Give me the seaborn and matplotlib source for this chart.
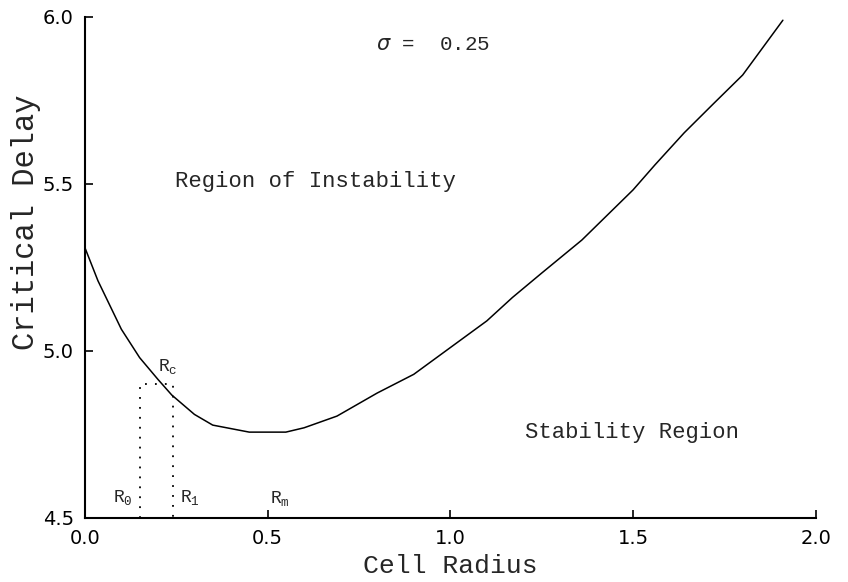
import matplotlib
matplotlib.use("Agg")
import matplotlib.pyplot as plt
import seaborn as sns

# curve
radius = [0.0, 0.036, 0.1, 0.15, 0.2, 0.238, 0.3, 0.35, 0.45, 0.55, 0.6, 0.69,
          0.8, 0.9, 1.0, 1.1, 1.17, 1.25, 1.36, 1.5, 1.56, 1.64, 1.72, 1.8, 1.91]
delay = [5.31, 5.21, 5.065, 4.98, 4.915, 4.868, 4.81, 4.778, 4.757, 4.757, 4.77, 4.805,
         4.874, 4.93, 5.01, 5.09, 5.16, 5.233, 5.332, 5.482, 5.557, 5.653, 5.74, 5.826, 5.99]

# dotted box between R0 and R1
box_x = [0.15, 0.15, 0.24, 0.24]
box_y = [4.5, 4.90, 4.90, 4.5]

sns.set_theme(style="ticks")
plt.rcParams['font.family'] = ['DejaVu Sans']
mono = 'Liberation Mono'

fig = plt.figure(figsize=(8.48, 5.82), dpi=100)
ax = fig.add_axes([0.100, 0.110, 0.862, 0.861])

sns.lineplot(x=radius, y=delay, sort=False, color='black', lw=1.1, ax=ax)
ax.plot(box_x, box_y, color='black', lw=1.3, linestyle=(0, (1, 4.5)))

ax.set_xlim(0, 2.0)
ax.set_ylim(4.5, 6.0)
ax.set_xticks([0.0, 0.5, 1.0, 1.5, 2.0])
ax.set_yticks([4.5, 5.0, 5.5, 6.0])
ax.set_xticklabels(['0.0', '0.5', '1.0', '1.5', '2.0'])
ax.set_yticklabels(['4.5', '5.0', '5.5', '6.0'])
ax.tick_params(direction='in', length=6, width=1.2, labelsize=14, pad=8, colors='black')

sns.despine(ax=ax)
for s in ['left', 'bottom']:
    ax.spines[s].set_linewidth(1.5)
    ax.spines[s].set_color('black')

ax.set_xlabel('')
ax.set_ylabel('')
fig.text(0.531, 1 - 566 / 582, 'Cell Radius', fontsize=19, family=mono, ha='center', va='center')
fig.text(0.031, 1 - 222 / 582, 'Critical Delay', fontsize=22, family=mono,
         ha='center', va='center', rotation=90)

ax.text(0.798, 5.916, r'$\sigma$ =  0.25', fontsize=15, family=mono, ha='left', va='center')
ax.text(0.631, 5.506, 'Region of Instability', fontsize=16, family=mono, ha='center', va='center')
ax.text(1.498, 4.757, 'Stability Region', fontsize=16, family=mono, ha='center', va='center')
ax.text(0.2, 4.952, r'R$_\mathregular{c}$', fontsize=13, family=mono, ha='left', va='center')
ax.text(0.104, 4.56, r'R$_\mathregular{0}$', fontsize=13, family=mono, ha='center', va='center')
ax.text(0.287, 4.56, r'R$_\mathregular{1}$', fontsize=13, family=mono, ha='center', va='center')
ax.text(0.535, 4.557, r'R$_\mathregular{m}$', fontsize=13, family=mono, ha='center', va='center')

fig.savefig('out.png', dpi=100)
